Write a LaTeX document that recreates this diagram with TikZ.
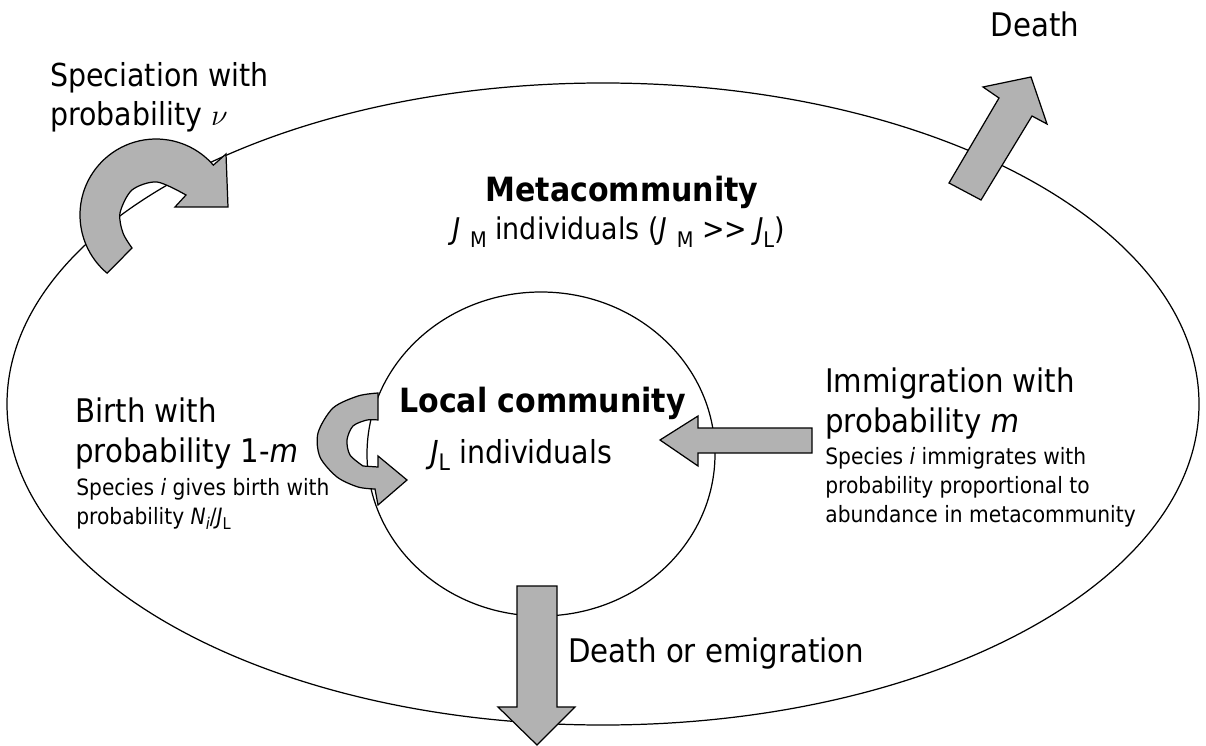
\documentclass[tikz,border=0pt]{standalone}
\usepackage{fontspec}
\setmainfont{DejaVu Sans Condensed}
\usepackage{graphicx}
\usepackage{tikz}
\newcommand{\lsub}[1]{\raisebox{-0.45ex}{\scalebox{0.72}{#1}}}
\begin{document}
\begin{tikzpicture}[x=0.02cm, y=-0.02cm,
  ring/.style={draw, line width=0.7pt},
  blk/.style={draw, fill=black!30, line width=0.7pt, line join=miter},
  big/.style={inner sep=0pt, anchor=base west, align=left, font=\fontsize{18.5}{22.4}\selectfont},
  small/.style={inner sep=0pt, anchor=base west, align=left, font=\fontsize{12.8}{16.4}\selectfont},
  head/.style={inner sep=0pt, anchor=base, font=\bfseries\fontsize{19}{22}\selectfont},
]
\useasboundingbox (0,0) rectangle (1206,746);
\draw[ring] (603,404) ellipse[x radius=596, y radius=321];
\draw[ring] (541,454) ellipse[x radius=174, y radius=162];
\coordinate (spc) at (156,215);
\draw[blk] ([shift={(130:76)}]spc) arc[start angle=130, end angle=319, radius=76]
  -- (226,154) -- (228,207) -- (175,207)
  -- plot[smooth] coordinates {(186,195) (157,182) (132,190) (120,213) (123,233) (132,248)} -- cycle;
\draw[blk] plot[smooth] coordinates {(378,393) (358,396) (333,408) (318,433) (320,457) (337,477) (358,487) (375,489)}
  -- (378,505) -- (407,480) -- (378,456) -- (378,467)
  -- plot[smooth] coordinates {(363,466) (350,455) (347,440) (353,426) (367,420) (378,420)} -- cycle;
\draw[blk] (949,183) -- (999,98) -- (983,87) -- (1031,77) -- (1047,124) -- (1032,116) -- (981,200) -- cycle;
\draw[blk] (812,428) -- (698,428) -- (698,416) -- (660,440) -- (698,466) -- (698,453) -- (812,453) -- cycle;
\draw[blk] (517,586) -- (557,586) -- (557,707) -- (575,707) -- (537,745) -- (498,707) -- (517,707) -- cycle;
\node[big, font=\fontsize{18}{22.4}\selectfont] (spec) at (50,126) {Speciation with\\probability $\nu$};
\node[big, anchor=base] (death) at (1035,37) {Death};
\node[head] (meta) at (622,202) {Metacommunity};
\node[big, font=\fontsize{17}{20}\selectfont] (jm) at (452,240)
  {\textit{J}\,\,\lsub{M} individuals (\textit{J}\,\,\lsub{M} {>}{>} \textit{J}\lsub{L})};
\node[head, anchor=base west] (loc) at (399,412) {Local community};
\node[big, font=\fontsize{18}{22}\selectfont] (jl) at (430,463) {\textit{J}\lsub{L} individuals};
\node[big] (birth) at (75,462) {Birth with\\probability 1-\textit{m}};
\node[small] (birthx) at (76,524) {Species \textit{i} gives birth with\\probability \textit{N}\lsub{\textit{i}}/\textit{J}\lsub{L}};
\node[big] (immi) at (825,432) {Immigration with\\probability \textit{m}};
\node[small] (immix) at (825,522) {Species \textit{i} immigrates with\\probability proportional to\\abundance in metacommunity};
\node[big] (emig) at (568,662) {Death or emigration};
\end{tikzpicture}
\end{document}
